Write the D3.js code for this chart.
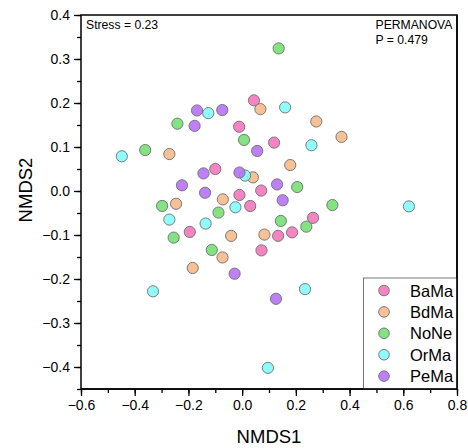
<!DOCTYPE html>
<html>
<head>
<meta charset="utf-8">
<script src="https://cdn.jsdelivr.net/npm/d3@7"></script>
<style>
  html, body { margin: 0; padding: 0; background: #fff; }
  svg { display: block; font-family: "Liberation Sans", Arial, sans-serif; }
</style>
</head>
<body>
<svg id="chart" width="468" height="448"></svg>
<script>
// NMDS ordination scores per group
const groups = ["BaMa", "BdMa", "NoNe", "OrMa", "PeMa"];
const colors = ["#F274B9", "#F5B889", "#72DF72", "#80FAFA", "#B56EF6"];

const BaMaX = [-0.011, -0.100, -0.010, 0.044, 0.119, 0.071, -0.195, 0.030, 0.264, 0.134, 0.186, 0.072];
const BaMaY = [0.146, 0.050, -0.009, 0.206, 0.110, 0.001, -0.093, -0.034, -0.061, -0.102, -0.094, -0.135];

const BdMaX = [-0.271, -0.072, -0.246, 0.068, 0.276, 0.370, 0.179, 0.040, -0.041, -0.073, -0.184, 0.083];
const BdMaY = [0.084, -0.019, -0.029, 0.186, 0.158, 0.123, 0.059, 0.031, -0.102, -0.151, -0.175, -0.099];

const NoNeX = [-0.241, 0.007, -0.361, 0.136, 0.205, -0.298, -0.088, -0.255, -0.113, 0.336, 0.144, 0.239];
const NoNeY = [0.153, 0.116, 0.093, 0.324, 0.009, -0.034, -0.049, -0.106, -0.134, -0.032, -0.068, -0.081];

const OrMaX = [-0.126, -0.448, 0.011, 0.160, 0.258, -0.025, -0.271, -0.136, -0.332, 0.621, 0.234, 0.096];
const OrMaY = [0.177, 0.079, 0.035, 0.190, 0.104, -0.037, -0.065, -0.074, -0.228, -0.035, -0.223, -0.402];

const PeMaX = [-0.168, -0.074, -0.177, -0.144, -0.010, -0.224, -0.138, 0.056, 0.130, 0.151, -0.028, 0.126];
const PeMaY = [0.183, 0.184, 0.148, 0.040, 0.042, 0.013, -0.004, 0.091, 0.015, -0.021, -0.188, -0.245];

const xTicks = [-0.6, -0.4, -0.2, 0.0, 0.2, 0.4, 0.6, 0.8];
const yTicks = [0.4, 0.3, 0.2, 0.1, 0.0, -0.1, -0.2, -0.3, -0.4];
const stressLabel = "Stress = 0.23";
const testLabel = ["PERMANOVA", "P = 0.479"];

const seriesX = [BaMaX, BdMaX, NoNeX, OrMaX, PeMaX];
const seriesY = [BaMaY, BdMaY, NoNeY, OrMaY, PeMaY];

const points = [];
groups.forEach((g, gi) => {
  seriesX[gi].forEach((v, i) => points.push({ group: g, x: v, y: seriesY[gi][i] }));
});

const svg = d3.select("#chart");
const plotL = 81, plotR = 457, plotT = 15, plotB = 389;

const x = d3.scaleLinear().domain([-0.6, 0.8]).range([plotL, plotR]);
const y = d3.scaleLinear().domain([-0.45, 0.4]).range([plotB, plotT]);

const fmt = v => d3.format(".1f")(v).replace("-", "\u2212");

// minor ticks
const xMinor = d3.range(-0.6, 0.801, 0.1).map(v => +v.toFixed(2));
const yMinor = d3.range(-0.45, 0.401, 0.05).map(v => +v.toFixed(3));

const xAxis = svg.append("g").attr("transform", `translate(0,${plotB})`);
xAxis.call(d3.axisBottom(x).tickValues(xMinor).tickSize(4).tickFormat(""));
xAxis.append("g").call(d3.axisBottom(x).tickValues(xTicks).tickSize(7).tickPadding(4).tickFormat(fmt));

const yAxis = svg.append("g").attr("transform", `translate(${plotL},0)`);
yAxis.call(d3.axisLeft(y).tickValues(yMinor).tickSize(4).tickFormat(""));
yAxis.append("g").call(d3.axisLeft(y).tickValues(yTicks).tickSize(7).tickPadding(4).tickFormat(fmt));

svg.selectAll(".domain").remove();
svg.selectAll(".tick line").attr("stroke", "#000").attr("stroke-width", 1.3);
svg.selectAll(".tick text")
  .attr("font-size", 14)
  .attr("fill", "#000")
  .attr("font-family", "Liberation Sans, Arial, sans-serif");

// frame
svg.append("rect")
  .attr("x", plotL).attr("y", plotT)
  .attr("width", plotR - plotL).attr("height", plotB - plotT)
  .attr("fill", "none").attr("stroke", "#000").attr("stroke-width", 1.5);

// points
const color = d3.scaleOrdinal().domain(groups).range(colors);
svg.append("g").selectAll("circle")
  .data(points)
  .join("circle")
  .attr("cx", d => x(d.x))
  .attr("cy", d => y(d.y))
  .attr("r", 5.6)
  .attr("fill", d => color(d.group))
  .attr("fill-opacity", 0.88)
  .attr("stroke", "#6e6e6e")
  .attr("stroke-width", 0.9);

// annotations
svg.append("text").attr("x", 86).attr("y", 28.5)
  .attr("font-size", 12.2).text(stressLabel);
svg.append("g").selectAll("text").data(testLabel).join("text")
  .attr("x", 375.5).attr("y", (d, i) => 29 + i * 14.5)
  .attr("font-size", 12.2).text(d => d);

// legend
const lg = svg.append("g");
lg.append("rect")
  .attr("x", 363.5).attr("y", 278)
  .attr("width", plotR - 363.5).attr("height", plotB - 278)
  .attr("fill", "#fff").attr("stroke", "#555").attr("stroke-width", 0.8);
const items = lg.selectAll("g.item").data(groups).join("g")
  .attr("class", "item")
  .attr("transform", (d, i) => `translate(384,${290.5 + i * 21.4})`);
items.append("circle").attr("r", 5.3)
  .attr("fill", d => color(d)).attr("fill-opacity", 0.88)
  .attr("stroke", "#6e6e6e").attr("stroke-width", 0.9);
items.append("text").attr("x", 26).attr("y", 6)
  .attr("font-size", 16.5).text(d => d);

// axis titles
svg.append("text").attr("x", 269).attr("y", 443)
  .attr("text-anchor", "middle").attr("font-size", 18.5).text("NMDS1");
svg.append("text")
  .attr("transform", `translate(32,190) rotate(-90)`)
  .attr("text-anchor", "middle").attr("font-size", 18.5).text("NMDS2");

// right and bottom frame edges drawn over the legend box
svg.append("line").attr("x1", plotR).attr("x2", plotR).attr("y1", plotT).attr("y2", plotB)
  .attr("stroke", "#000").attr("stroke-width", 1.5);
svg.append("line").attr("x1", plotL).attr("x2", plotR).attr("y1", plotB).attr("y2", plotB)
  .attr("stroke", "#000").attr("stroke-width", 1.5);
</script>
</body>
</html>
